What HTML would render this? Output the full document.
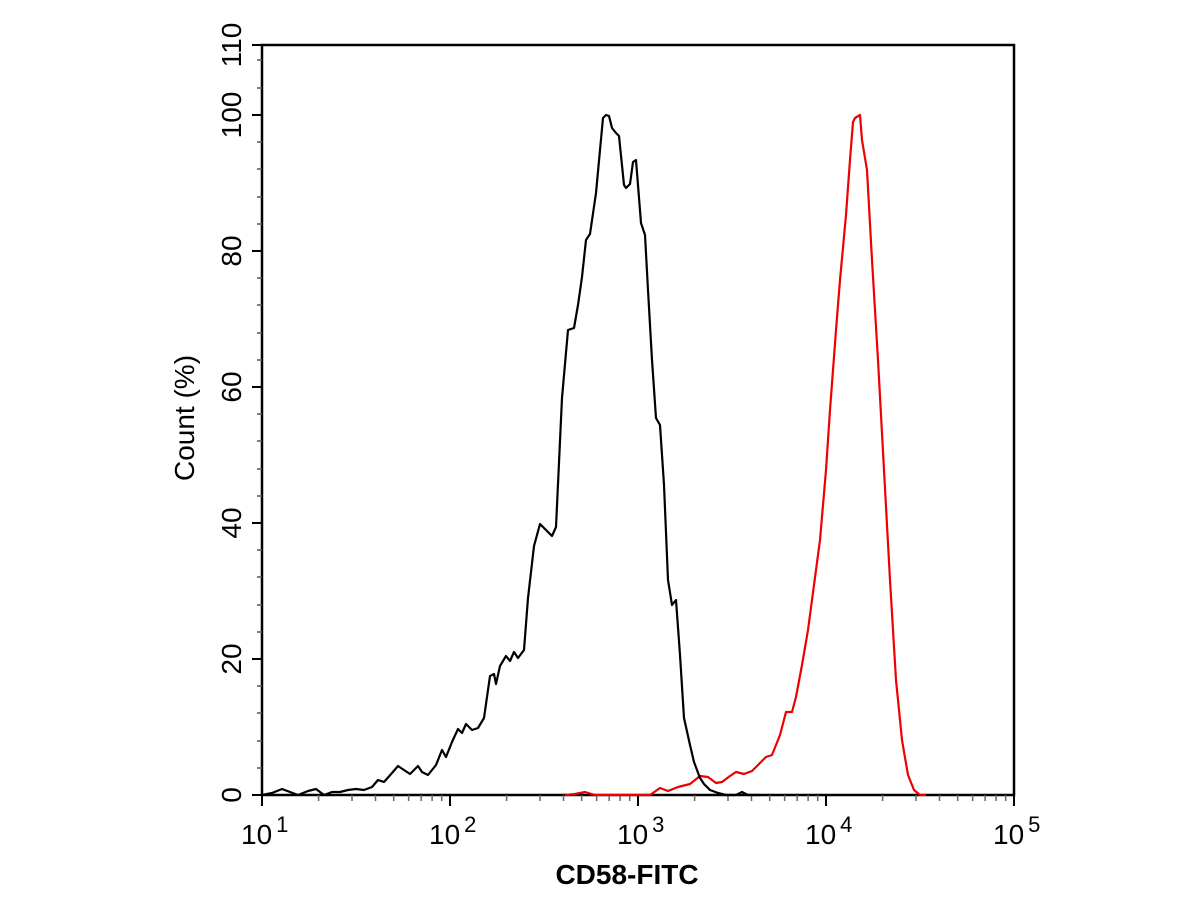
<!DOCTYPE html>
<html><head><meta charset="utf-8"><style>
html,body{margin:0;padding:0;background:#fff;width:1200px;height:900px;overflow:hidden}
svg text{font-family:"Liberation Sans",sans-serif}
</style></head><body>
<svg width="1200" height="900" viewBox="0 0 1200 900" xmlns="http://www.w3.org/2000/svg">
<rect x="262" y="45" width="752" height="750" fill="none" stroke="#000" stroke-width="2.5"/>
<g stroke="#000" stroke-width="2">
<line x1="252" y1="795" x2="262" y2="795"/><line x1="252" y1="659" x2="262" y2="659"/>
<line x1="252" y1="523" x2="262" y2="523"/><line x1="252" y1="387" x2="262" y2="387"/>
<line x1="252" y1="251" x2="262" y2="251"/><line x1="252" y1="115" x2="262" y2="115"/>
<line x1="252" y1="45" x2="262" y2="45"/>
</g>
<g stroke="#555" stroke-width="1.5">
<line x1="257" y1="768" x2="262" y2="768"/><line x1="257" y1="741" x2="262" y2="741"/><line x1="257" y1="713" x2="262" y2="713"/><line x1="257" y1="686" x2="262" y2="686"/>
<line x1="257" y1="632" x2="262" y2="632"/><line x1="257" y1="605" x2="262" y2="605"/><line x1="257" y1="577" x2="262" y2="577"/><line x1="257" y1="550" x2="262" y2="550"/>
<line x1="257" y1="496" x2="262" y2="496"/><line x1="257" y1="469" x2="262" y2="469"/><line x1="257" y1="441" x2="262" y2="441"/><line x1="257" y1="414" x2="262" y2="414"/>
<line x1="257" y1="360" x2="262" y2="360"/><line x1="257" y1="333" x2="262" y2="333"/><line x1="257" y1="305" x2="262" y2="305"/><line x1="257" y1="278" x2="262" y2="278"/>
<line x1="257" y1="224" x2="262" y2="224"/><line x1="257" y1="197" x2="262" y2="197"/><line x1="257" y1="169" x2="262" y2="169"/><line x1="257" y1="142" x2="262" y2="142"/>
<line x1="257" y1="88" x2="262" y2="88"/><line x1="257" y1="60" x2="262" y2="60"/>
</g>
<g stroke="#000" stroke-width="2">
<line x1="262" y1="795" x2="262" y2="806"/><line x1="450" y1="795" x2="450" y2="806"/><line x1="638" y1="795" x2="638" y2="806"/><line x1="826" y1="795" x2="826" y2="806"/><line x1="1014" y1="795" x2="1014" y2="806"/>
</g>
<g stroke="#666" stroke-width="1.5" id="minor">
<line x1="318.6" y1="795" x2="318.6" y2="801"/><line x1="352" y1="795" x2="352" y2="801"/><line x1="375.5" y1="795" x2="375.5" y2="801"/><line x1="393.7" y1="795" x2="393.7" y2="801"/><line x1="408.6" y1="795" x2="408.6" y2="801"/><line x1="421.2" y1="795" x2="421.2" y2="801"/><line x1="432.1" y1="795" x2="432.1" y2="801"/><line x1="441.7" y1="795" x2="441.7" y2="801"/>
</g>
<use href="#minor" x="188"/><use href="#minor" x="376"/><use href="#minor" x="564"/>
<g fill="#000" text-anchor="middle" style="font-size:28px">
<text transform="translate(241,795) rotate(-90)">0</text>
<text transform="translate(241,659) rotate(-90)">20</text>
<text transform="translate(241,523) rotate(-90)">40</text>
<text transform="translate(241,387) rotate(-90)">60</text>
<text transform="translate(241,251) rotate(-90)">80</text>
<text transform="translate(241,115) rotate(-90)">100</text>
<text transform="translate(241,45) rotate(-90)">110</text>
<text transform="translate(194,418) rotate(-90)">Count  (%)</text>
</g>
<g fill="#000" style="font-size:28px">
<text x="241" y="844">10<tspan style="font-size:22px" dx="4" dy="-12">1</tspan></text>
<text x="429" y="844">10<tspan style="font-size:22px" dx="4" dy="-12">2</tspan></text>
<text x="617" y="844">10<tspan style="font-size:22px" dx="4" dy="-12">3</tspan></text>
<text x="805" y="844">10<tspan style="font-size:22px" dx="4" dy="-12">4</tspan></text>
<text x="993" y="844">10<tspan style="font-size:22px" dx="4" dy="-12">5</tspan></text>
</g>
<text x="627" y="884" font-weight="bold" text-anchor="middle" style="font-size:28px">CD58-FITC</text>
<polyline fill="none" stroke="#e00" stroke-width="2.2" stroke-linejoin="round" points="565,795 575,794 585,792 595,795 650,795 660,788 668,791 678,787 690,784 700,776 708,777 716,783 722,782 730,776 736,772 744,774 752,771 758,765 766,757 772,755 780,735 786,712 792,712 796,697 802,665 808,630 814,585 820,540 826,470 830,410 836,330 840,280 846,215 850,160 853,122 855,118 860,115 862,140 867,170 872,260 878,360 884,470 890,580 896,680 902,740 908,775 914,790 920,795 926,795"/>
<polyline fill="none" stroke="#000" stroke-width="2.2" stroke-linejoin="round" points="262,795 272,793 282,789 290,792 298,795 308,791 316,789 324,795 332,792 340,792 348,790 356,789 364,790 372,787 378,780 384,782 392,773 398,766 404,770 410,774 418,766 422,772 428,775 436,765 442,750 446,757 452,742 458,729 462,733 466,724 472,730 478,728 484,718 490,676 494,674 496,684 500,666 506,656 510,661 514,652 518,658 524,650 528,598 534,546 540,524 546,530 552,536 556,527 562,398 568,330 574,328 578,305 582,277 586,240 590,234 596,193 600,150 603,118 606,115 609,116 612,128 616,133 619,136 624,185 626,188 630,184 633,162 636,160 641,223 645,235 648,290 652,360 656,418 660,425 664,485 668,580 672,605 676,600 680,655 684,718 690,745 694,762 700,778 704,784 710,790 718,793 726,795 736,795 742,792 748,795 760,795"/>
</svg>
</body></html>
